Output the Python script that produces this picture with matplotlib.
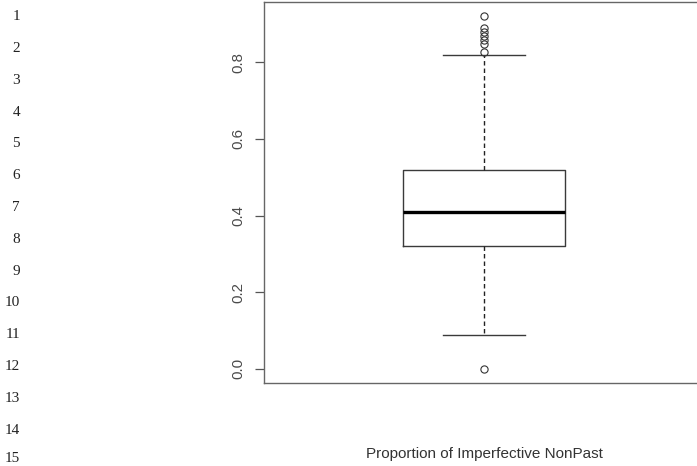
import matplotlib
matplotlib.use("Agg")
import matplotlib.pyplot as plt

# ---- data ----
line_numbers = [str(i) for i in range(1, 16)]
box_label = "Proportion of Imperfective NonPast"
q1 = 0.321
median = 0.409
q3 = 0.519
whisker_low = 0.089
whisker_high = 0.818
outliers = [0.0, 0.827, 0.848, 0.858, 0.868, 0.879, 0.889, 0.920]
yticks = [0.0, 0.2, 0.4, 0.6, 0.8]
ytick_labels = ["0.0", "0.2", "0.4", "0.6", "0.8"]

W, H = 697, 466
fig = plt.figure(figsize=(W / 100, H / 100), dpi=100)
fig.patch.set_facecolor("white")

# axes: left 264px, right beyond canvas (704px), top 2px, bottom 383px
ax = fig.add_axes([264 / W, 1 - 383 / H, (704 - 264) / W, (383 - 2) / H])

stats = [dict(med=median, q1=q1, q3=q3, whislo=whisker_low, whishi=whisker_high,
              fliers=outliers)]
line_col = "#3a3a3a"
ax.bxp(stats, positions=[1], widths=0.37, showfliers=True, patch_artist=False,
       boxprops=dict(color=line_col, linewidth=1.0),
       medianprops=dict(color="black", linewidth=2.4, solid_capstyle="butt"),
       whiskerprops=dict(color="#222222", linewidth=1.0, linestyle=(0, (3.2, 2.2))),
       capprops=dict(color=line_col, linewidth=1.0),
       flierprops=dict(marker="o", markerfacecolor="none", markeredgecolor="#333333",
                       markersize=5.2, markeredgewidth=0.8),
       capwidths=0.185)

ax.set_xlim(0.5, 1.5)
ax.set_ylim(-0.0368, 0.9568)
ax.set_xticks([])
ax.set_yticks(yticks)
ax.set_yticklabels(ytick_labels, rotation=90, va="center", fontsize=10.8,
                   color="#4a4a4a", family="Liberation Sans")
ax.tick_params(axis="y", length=6.5, width=0.9, color="#555555", pad=7)
for s in ["left", "bottom", "top", "right"]:
    ax.spines[s].set_color("#666666")
    ax.spines[s].set_linewidth(1.0)

ax.text(0.5, -0.186, box_label, transform=ax.transAxes, ha="center", va="center",
        fontsize=11, color="#333333", family="Liberation Sans")

# line numbers in the left margin
for k, lab in enumerate(line_numbers):
    y = min(16.7 + k * 31.8, 458.5)
    fig.text(20 / W, 1 - y / H, lab, ha="right", va="center", fontsize=11,
             family="Liberation Serif", color="#222222")

fig.savefig("out.png", dpi=100, facecolor="white")
